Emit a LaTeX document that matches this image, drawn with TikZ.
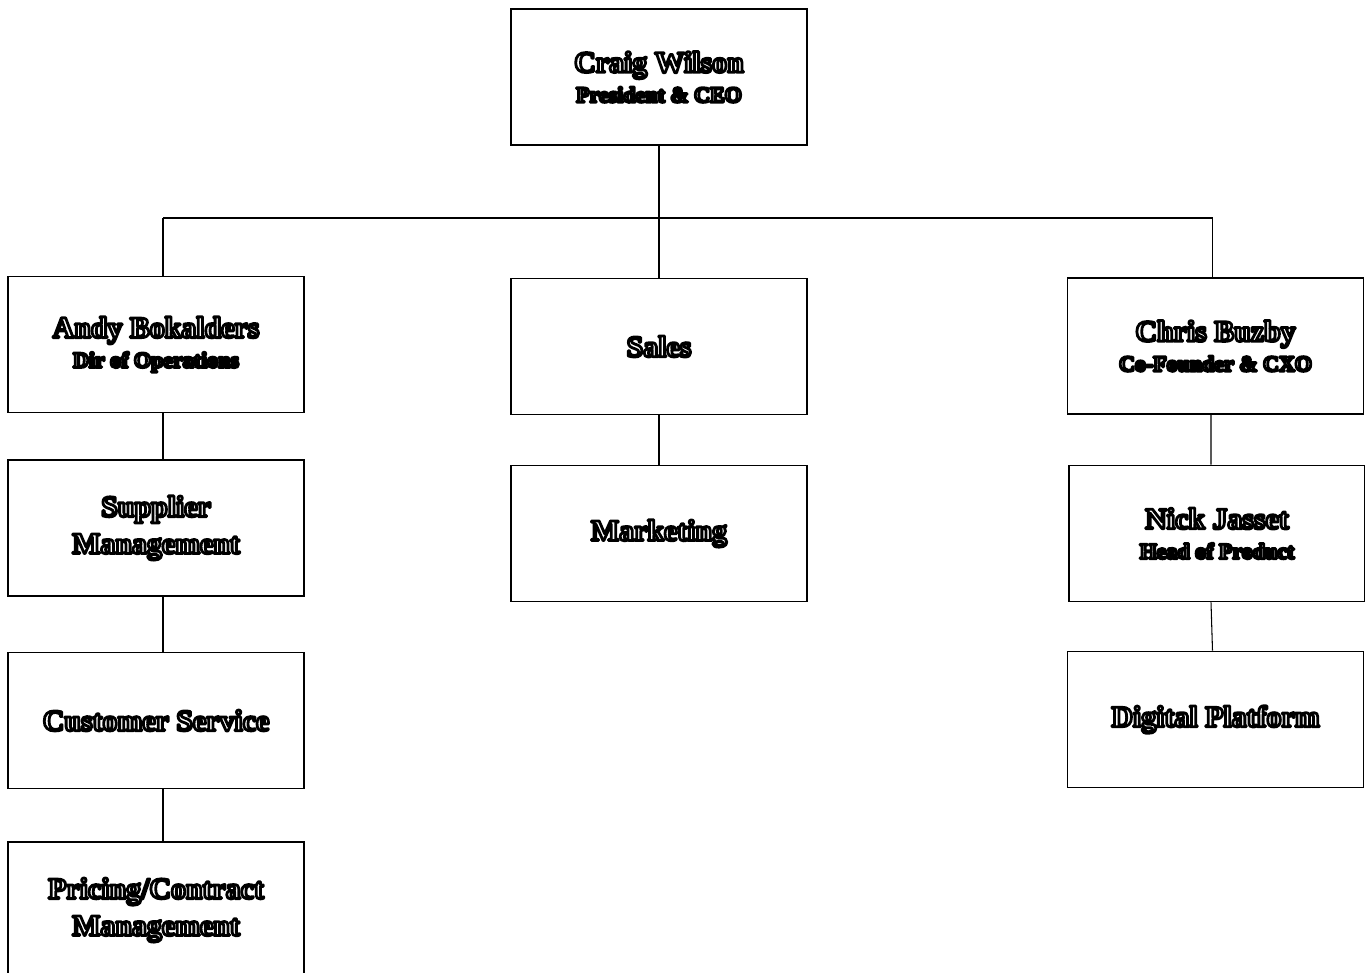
\documentclass[tikz,border=0pt]{standalone}
\usepackage{fontspec}
\setmainfont{Liberation Serif}
% outlined letters: fill white, stroke black
\newcommand{\ol}[1]{\special{pdf:literal direct 0 G 1.6 w 1 j 2 Tr}#1\special{pdf:literal direct 0 Tr}}
\tikzset{
    orgbox/.style={draw, line width=1.1pt, minimum width=5.92cm, minimum height=2.72cm,
        align=center, text=white, font=\bfseries\fontsize{17}{21}\selectfont},
    orgline/.style={line width=0.6pt}
}
\newcommand{\sub}[1]{{\fontsize{12.5}{13}\selectfont\ol{#1}}}
\begin{document}
\begin{tikzpicture}
        \useasboundingbox (0, 0) rectangle (27.3, -19.46);
        \node (ceo) at (13.18, -1.54) [orgbox] {\ol{Craig Wilson}\\[-4pt]\sub{President \& CEO}};
        \coordinate (bus) at (13.18, -4.36);

        \node (ops) at (3.12, -6.89) [orgbox] {\ol{Andy Bokalders}\\[-4pt]\sub{Dir of Operations}};
        \node (supplier) at (3.12, -10.56) [orgbox] {\ol{Supplier}\\\ol{Management}};
        \node (service) at (3.12, -14.41) [orgbox] {\ol{Customer Service}};
        \node (pricing) at (3.12, -18.2) [orgbox] {\ol{Pricing/Contract}\\\ol{Management}};

        \node (sales) at (13.18, -6.93) [orgbox] {\ol{Sales}};
        \node (marketing) at (13.18, -10.67) [orgbox] {\ol{Marketing}};

        \node (cxo) at (24.31, -6.92) [orgbox] {\ol{Chris Buzby}\\[-4pt]\sub{Co-Founder \& CXO}};
        \node (product) at (24.34, -10.67) [orgbox] {\ol{Nick Jasset}\\[-4pt]\sub{Head of Product}};
        \node (platform) at (24.31, -14.39) [orgbox] {\ol{Digital Platform}};

        % left column lines sit a little right of the box centres
        \draw[orgline] (ceo.south) -- (bus);
        \draw[orgline] ([xshift=0.14cm]ops.north |- bus) -- ([xshift=-0.06cm]cxo.north |- bus);
        \draw[orgline] ([xshift=0.14cm]ops.north |- bus) -- ([xshift=0.14cm]ops.north);
        \draw[orgline] (sales.north |- bus) -- (sales.north);
        \draw[orgline] ([xshift=-0.06cm]cxo.north |- bus) -- ([xshift=-0.06cm]cxo.north);

        \foreach \a/\b in {ops/supplier, supplier/service, service/pricing}
            \draw[orgline] ([xshift=0.14cm]\a.south) -- ([xshift=0.14cm]\b.north);
        \draw[orgline] (sales) -- (marketing);
        \draw[orgline] ([xshift=-0.09cm]cxo.south) -- ([xshift=-0.12cm]product.north);
        \draw[orgline] ([xshift=-0.12cm]product.south) -- ([xshift=-0.06cm]platform.north);
\end{tikzpicture}
\end{document}
